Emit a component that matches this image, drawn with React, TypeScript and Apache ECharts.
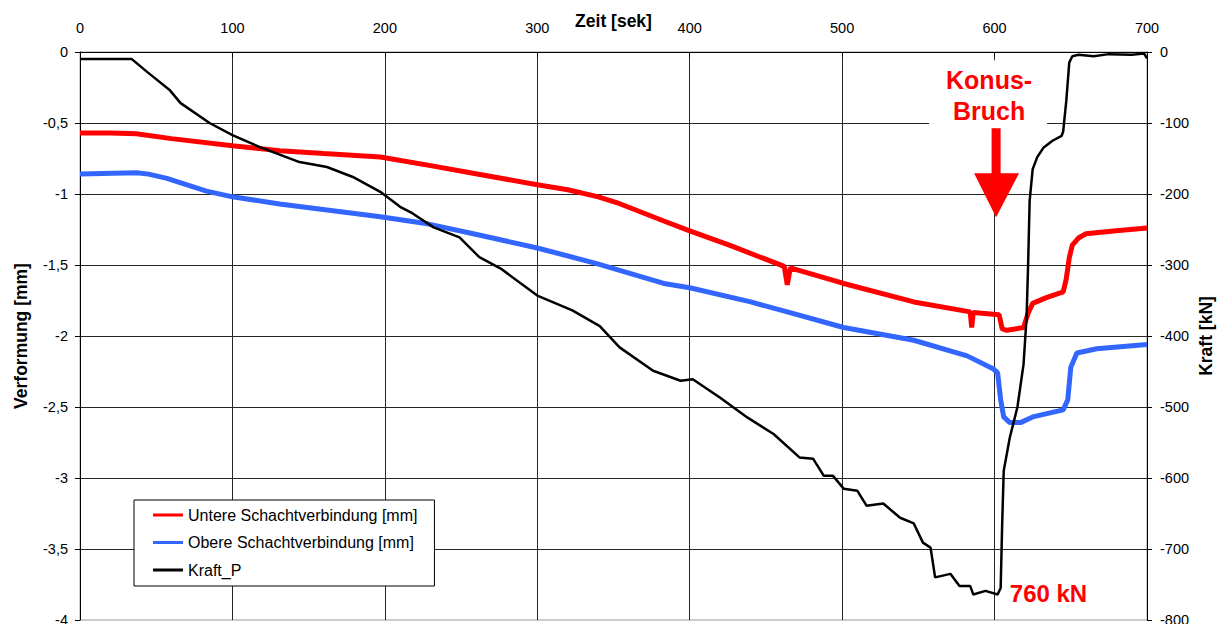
import React, { useEffect, useRef } from "react";
import * as echarts from "echarts";

const seriesNames = ["Untere Schachtverbindung [mm]", "Obere Schachtverbindung [mm]", "Kraft_P"];

// [time s, deformation mm]
const untere: [number, number][] = [
  [0, -0.57], [20, -0.57], [37, -0.575], [60, -0.61], [100, -0.66], [131, -0.695], [160, -0.715],
  [197, -0.74], [230, -0.8], [256, -0.85], [300, -0.935], [320, -0.97], [340, -1.02], [352, -1.06],
  [383, -1.19], [400, -1.26], [426, -1.36], [462, -1.51], [464, -1.64], [466, -1.52], [501, -1.63],
  [547, -1.76], [584, -1.83], [585, -1.94], [586, -1.835], [603, -1.85], [605, -1.95], [608, -1.96],
  [619, -1.94], [622, -1.84], [625, -1.77], [634, -1.73], [645, -1.69], [647, -1.6], [649, -1.45],
  [651, -1.36], [655, -1.31], [660, -1.28], [678, -1.26], [700, -1.24],
];

const obere: [number, number][] = [
  [0, -0.86], [37, -0.85], [45, -0.86], [57, -0.89], [83, -0.98], [100, -1.02], [131, -1.07],
  [153, -1.1], [197, -1.16], [228, -1.21], [258, -1.28], [300, -1.38], [339, -1.49], [383, -1.63],
  [400, -1.66], [440, -1.76], [464, -1.83], [501, -1.94], [547, -2.03], [582, -2.14], [599, -2.23],
  [602, -2.26], [604, -2.45], [606, -2.57], [610, -2.61], [617, -2.61], [625, -2.57], [645, -2.52],
  [648, -2.45], [650, -2.22], [654, -2.12], [667, -2.09], [700, -2.06],
];

// [time s, force kN]
const kraft: [number, number][] = [
  [0, -10], [34, -10], [44, -28], [59, -54], [66, -72], [85, -100], [100, -117], [118, -134],
  [144, -155], [162, -162], [179, -176], [197, -197], [210, -218], [218, -227], [232, -247],
  [249, -261], [262, -289], [276, -305], [300, -343], [323, -364], [341, -386], [354, -416],
  [376, -449], [394, -463], [402, -461], [420, -487], [438, -515], [455, -538], [472, -571],
  [481, -573], [488, -597], [494, -597], [501, -615], [510, -618], [516, -639], [527, -636],
  [538, -656], [547, -664], [553, -691], [558, -698], [561, -740], [571, -735], [577, -752],
  [584, -752], [586, -764], [594, -759], [602, -764], [604, -755], [605, -664], [606, -590],
  [610, -543], [615, -500], [619, -440], [621, -374], [622, -300], [623, -210], [625, -165],
  [628, -148], [632, -135], [638, -125], [644, -118], [645, -112], [647, -70], [649, -15],
  [651, -6], [655, -4], [665, -6], [675, -3], [690, -4], [698, -2], [700, -9],
];

const FONT = "'Liberation Sans', Arial, sans-serif";

export default function App() {
  const ref = useRef<HTMLDivElement>(null);
  useEffect(() => {
    const chart = echarts.init(ref.current!, null, { renderer: "svg" });
    const gridColor = "#262626";
    chart.setOption({
      animation: false,
      backgroundColor: "#fff",
      grid: {
        left: 80, right: 72, top: 52, bottom: 4,
        outerBoundsMode: "none", containLabel: false,
        show: true, borderColor: "#999", borderWidth: 1,
      },
      legend: {
        orient: "vertical",
        left: 134,
        top: 500,
        data: seriesNames,
        icon: "rect",
        itemWidth: 30,
        itemHeight: 3,
        itemGap: 11.5,
        padding: [7, 17, 8, 19],
        borderColor: "#000",
        borderWidth: 1,
        backgroundColor: "#fff",
        textStyle: { fontFamily: FONT, fontSize: 16, color: "#000", lineHeight: 16 },
      },
      xAxis: {
        type: "value",
        position: "top",
        min: 0,
        max: 700,
        interval: 100,
        name: "Zeit [sek]",
        nameLocation: "middle",
        nameGap: 22,
        nameMoveOverlap: false,
        nameTextStyle: { fontFamily: FONT, fontWeight: "bold", fontSize: 17.5, color: "#000" },
        axisLine: { show: true, lineStyle: { color: "#000", width: 1 } },
        axisTick: { show: true, inside: true, length: 5, lineStyle: { color: "#000" } },
        axisLabel: { margin: 17, fontFamily: FONT, fontSize: 14.5, color: "#000" },
        splitLine: { show: true, lineStyle: { color: gridColor, width: 1 } },
      },
      yAxis: [
        {
          type: "value",
          position: "left",
          min: -4,
          max: 0,
          interval: 0.5,
          name: "Verformung [mm]",
          nameLocation: "middle",
          nameGap: 50,
          nameMoveOverlap: false,
          nameTextStyle: { fontFamily: FONT, fontWeight: "bold", fontSize: 17.5, color: "#000" },
          axisLine: { show: true, lineStyle: { color: "#000", width: 1 } },
          axisTick: { show: true, length: 5, lineStyle: { color: "#000" } },
          axisLabel: {
            margin: 12,
            fontFamily: FONT,
            fontSize: 14.5,
            color: "#000",
            formatter: (v: number) => String(v).replace(".", ","),
          },
          splitLine: { show: true, showMinLine: false, lineStyle: { color: gridColor, width: 1 } },
        },
        {
          type: "value",
          position: "right",
          min: -800,
          max: 0,
          interval: 100,
          name: "Kraft [kN]",
          nameLocation: "middle",
          nameGap: 50,
          nameMoveOverlap: false,
          nameTextStyle: { fontFamily: FONT, fontWeight: "bold", fontSize: 17.5, color: "#000" },
          axisLine: { show: true, lineStyle: { color: "#000", width: 1 } },
          axisTick: { show: true, length: 5, lineStyle: { color: "#000" } },
          axisLabel: { margin: 13, fontFamily: FONT, fontSize: 14.5, color: "#000" },
          splitLine: { show: false },
        },
      ],
      series: [
        {
          name: seriesNames[0],
          type: "line",
          yAxisIndex: 0,
          data: untere,
          symbol: "none",
          color: "#ff0000",
          lineStyle: { color: "#ff0000", width: 5 },
          z: 2,
        },
        {
          name: seriesNames[1],
          type: "line",
          yAxisIndex: 0,
          data: obere,
          symbol: "none",
          color: "#3366ff",
          lineStyle: { color: "#3366ff", width: 5 },
          z: 2,
        },
        {
          name: seriesNames[2],
          type: "line",
          yAxisIndex: 1,
          data: kraft,
          symbol: "none",
          color: "#000",
          lineStyle: { color: "#000", width: 2.5 },
          z: 3,
        },
      ],
    });

    const tip = chart.convertToPixel({ seriesIndex: 0 }, [601, -1.163]) as number[];
    const lab = chart.convertToPixel({ seriesIndex: 2 }, [610, -763]) as number[];
    const px = tip[0];
    const py = tip[1];
    chart.setOption({
      graphic: [
        {
          type: "rect",
          z: 100,
          shape: { x: px - 67, y: py - 157, width: 118, height: 68 },
          style: { fill: "#fff" },
        },
        {
          type: "polygon",
          z: 101,
          shape: {
            points: [
              [px - 4.5, py - 89], [px + 4.5, py - 89], [px + 4.5, py - 44], [px + 23, py - 44],
              [px, py], [px - 22, py - 44], [px - 4.5, py - 44],
            ],
          },
          style: { fill: "#ff0000" },
        },
        {
          type: "text",
          z: 101,
          x: px - 7,
          y: py - 137,
          style: { text: "Konus-", fill: "#ff0000", fontFamily: FONT, fontWeight: "bold", fontSize: 25, align: "center", verticalAlign: "middle" },
        },
        {
          type: "text",
          z: 101,
          x: px - 7,
          y: py - 106,
          style: { text: "Bruch", fill: "#ff0000", fontFamily: FONT, fontWeight: "bold", fontSize: 25, align: "center", verticalAlign: "middle" },
        },
        {
          type: "text",
          z: 101,
          x: lab[0],
          y: lab[1],
          style: { text: "760 kN", fill: "#ff0000", fontFamily: FONT, fontWeight: "bold", fontSize: 24, align: "left", verticalAlign: "middle" },
        },
      ],
    });
    return () => chart.dispose();
  }, []);
  return (
    <div
      ref={ref}
      style={{ position: "fixed", left: 0, top: 0, width: 1219, height: 624, background: "#fff" }}
    />
  );
}
